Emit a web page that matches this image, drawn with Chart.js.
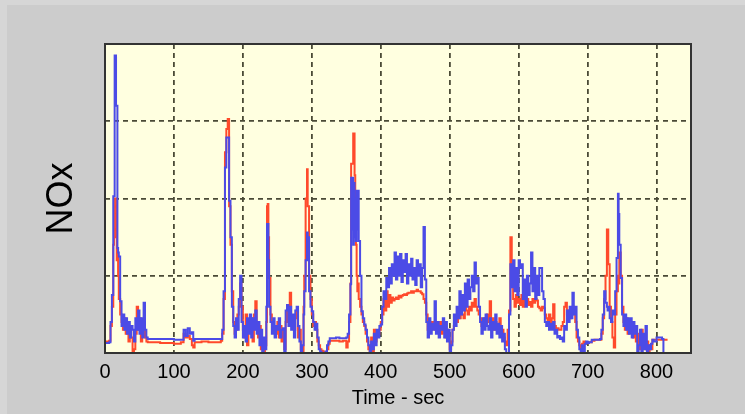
<!DOCTYPE html>
<html>
<head>
<meta charset="utf-8">
<script src="https://cdn.jsdelivr.net/npm/chart.js@4.4.1/dist/chart.umd.min.js"></script>
<style>
  html, body { margin: 0; padding: 0; background: #d4d4d4; }
  canvas { display: block; }
</style>
</head>
<body>
<canvas id="noxChart" width="745" height="414"></canvas>
<script>
// time stamps (sec), shared by both traces
const times = [
  0, 3, 6, 8, 10, 12, 13, 14, 15, 16, 17, 18, 19, 20, 22, 24, 26, 28, 30, 32, 34, 36, 38, 40, 42, 44, 46, 48, 50, 52, 54, 56, 58, 60,
  62, 70, 80, 90, 100, 110, 114, 117, 120, 123, 126, 128, 130, 140, 150, 160, 168,
  170, 172, 174, 176, 178, 180, 182, 184, 186, 188, 190, 192, 194, 196, 198, 200,
  202, 204, 206, 208, 210, 212, 214, 216, 218, 220, 222, 224, 226, 228, 230, 232,
  234, 235, 236, 237, 238, 240, 242, 244, 246, 248, 250, 252, 254, 256, 258, 260,
  262, 264, 266, 268, 270, 272, 274, 276, 278, 280, 282, 284, 286, 288,
  289, 291, 293, 294, 296, 298, 300, 302, 304, 306, 308, 310, 312, 314, 316, 318, 320, 322, 324,
  326, 330, 335, 340, 345, 350, 352,
  354, 356, 357, 358, 359, 360, 361, 362, 363, 364, 365, 366, 367, 368, 370, 372, 374, 376, 378, 380, 382, 384, 386, 388, 390, 392, 394, 396, 398, 400,
  402, 404, 406, 408, 410, 412, 414, 416, 418, 420, 422, 424, 426, 428, 430, 432, 434, 436, 438, 440, 442, 444, 446, 448, 450, 452, 454, 456, 458, 460, 462, 464,
  466, 468, 470, 472, 474, 476, 478, 480, 482, 484, 486, 488, 490, 492, 494, 496, 498, 500,
  502, 504, 506, 508, 510, 512, 514, 516, 518, 520, 522, 524, 526, 528, 530, 532, 534, 536, 538, 540, 542,
  544, 546, 548, 550, 552, 554, 556, 558, 560, 562, 564, 566, 568, 570, 572, 574, 576, 578, 580, 582, 584, 586,
  588, 590, 592, 594, 596, 598, 600, 602, 604, 606, 608, 610, 612, 614, 616, 618, 620, 622, 624, 626, 628, 630, 632, 634, 636, 638,
  640, 642, 644, 646, 648, 650, 652, 654, 656, 658, 660, 662, 664, 666, 668, 670, 672, 674, 676, 678, 680, 682, 684, 686, 688, 690, 692, 694, 696, 698, 700,
  702, 706, 710, 714, 718, 720, 722, 724, 726, 728, 729, 730, 732, 734, 736, 738, 740, 742, 744, 745, 746, 748, 750, 752, 754, 756, 758, 760,
  762, 764, 766, 768, 770, 772, 774, 776, 778, 780, 782, 784, 786, 788, 790, 792, 794, 796, 800, 804, 808, 810, 812, 816
];

// blue trace
const noxBlue = [
  0.13, 0.13, 0.14, 0.40, 0.75, 2.03, 2.03, 3.85, 3.85, 3.2, 3.2, 1.36, 1.30, 1.25, 0.67, 0.35, 0.5, 0.3, 0.45, 0.25, 0.4, 0.2, 0.35, 0.3, 0.15, 0.45, 0.3, 0.55, 0.25, 0.45, 0.2, 0.65, 0.3, 0.2,
  0.18, 0.18, 0.18, 0.18, 0.17, 0.17, 0.30, 0.22, 0.32, 0.25, 0.27, 0.16, 0.18, 0.18, 0.18, 0.18, 0.18,
  0.3, 0.8, 2.4, 2.79, 2.79, 1.97, 1.5, 0.6, 0.35, 0.2, 0.45, 0.3, 0.7, 1.0, 0.4, 0.2,
  0.35, 0.15, 0.45, 0.25, 0.5, 0.2, 0.45, 0.3, 0.55, 0.25, 0.4, 0.1, 0.3, 0.0, 0.2, 0.05,
  0.6, 1.67, 1.67, 1.2, 0.6, 0.4, 0.25, 0.45, 0.2, 0.35, 0.3, 0.45, 0.2, 0.3, 0.32, 0.0,
  0.55, 0.62, 0.35, 0.6, 0.3, 0.5, 0.2, 0.55, 0.6, 0.35, 0.15, 0.0, 0.1, 0.5,
  0.8, 1.2, 1.56, 1.5, 0.8, 0.6, 0.54, 0.4, 0.3, 0.38, 0.2, 0.05, 0.02, 0.0, 0.0, 0.0, 0.02, 0.1, 0.15,
  0.19, 0.19, 0.2, 0.19, 0.19, 0.2, 0.25,
  0.5, 0.89, 2.27, 1.6, 2.27, 1.4, 2.2, 1.5, 2.0, 1.45, 2.1, 1.6, 2.1, 1.45, 1.0, 0.54, 0.45, 0.37, 0.3, 0.2, 0.1, 0.0, 0.15, 0.05, 0.25, 0.1, 0.3, 0.2, 0.35, 0.37,
  0.6, 0.8, 0.7, 0.97, 0.85, 1.1, 0.9, 1.15, 1.0, 1.3, 0.95, 1.25, 1.0, 1.28, 0.92, 1.2, 1.05, 1.28, 0.9, 1.15, 1.0, 1.22, 0.95, 1.1, 0.88, 1.2, 1.0, 1.15, 0.85, 1.1, 1.63, 0.95,
  0.4, 0.2, 0.45, 0.25, 0.38, 0.3, 0.67, 0.25, 0.4, 0.2, 0.35, 0.3, 0.45, 0.2, 0.4, 0.15, 0.3, 0.0,
  0.1, 0.3, 0.5, 0.35, 0.6, 0.45, 0.8, 0.5, 0.75, 0.55, 0.9, 0.6, 0.95, 0.7, 0.85, 1.0, 0.8, 1.17, 0.9, 0.97, 0.6,
  0.4, 0.25, 0.45, 0.3, 0.5, 0.35, 0.3, 0.45, 0.2, 0.4, 0.3, 0.5, 0.25, 0.38, 0.2, 0.35, 0.15, 0.25, 0.05, 0.0, 0.0, 0.5,
  1.15, 0.85, 1.2, 0.8, 1.1, 0.75, 1.2, 1.1, 1.15, 0.7, 0.95, 0.6, 1.0, 0.75, 0.9, 1.3, 0.8, 1.1, 0.7, 1.0, 0.75, 1.1, 1.1, 0.8, 0.7, 0.4,
  0.35, 0.4, 0.3, 0.38, 0.3, 0.4, 0.25, 0.3, 0.2, 0.22, 0.18, 0.2, 0.15, 0.35, 0.3, 0.55, 0.4, 0.6, 0.45, 0.78, 0.5, 0.6, 0.3, 0.2, 0.05, 0.0, 0.1, 0.0, 0.12, 0.15, 0.13,
  0.14, 0.17, 0.17, 0.17, 0.18, 0.3, 0.5, 0.8, 0.65, 0.6, 0.55, 0.6, 0.45, 0.4, 0.55, 0.5, 0.8, 1.23, 2.06, 1.8, 1.4, 0.97, 0.5, 0.35, 0.5, 0.3, 0.45, 0.25,
  0.45, 0.2, 0.4, 0.25, 0.35, 0.0, 0.1, 0.3, 0.0, 0.25, 0.05, 0.35, 0.0, 0.1, 0.05, 0.12, 0.17, 0.15, 0.2, 0.2, 0.18, 0.0, 0.0, null
];

// red trace
const noxRed = [
  0.15, 0.15, 0.16, 0.35, 0.6, 1.4, 2.0, 2.0, 2.0, 1.5, 1.2, 1.3, 1.0, 0.7, 0.5, 0.4, 0.3, 0.45, 0.25, 0.35, 0.15, 0.3, 0.2, 0.0, 0.05, 0.25, 0.6, 0.3, 0.45, 0.15, 0.4, 0.3, 0.2, 0.15,
  0.14, 0.14, 0.13, 0.13, 0.12, 0.14, 0.25, 0.20, 0.22, 0.18, 0.10, 0.07, 0.14, 0.15, 0.14, 0.14, 0.16,
  0.25, 0.7, 2.6, 2.9, 3.03, 1.9, 1.4, 0.8, 0.4, 0.25, 0.3, 0.5, 0.6, 0.9, 0.6, 0.3,
  0.2, 0.5, 0.1, 0.4, 0.3, 0.45, 0.15, 0.5, 0.67, 0.3, 0.2, 0.35, 0.05, 0.15, 0.0, 0.1,
  0.4, 1.9, 1.93, 1.5, 0.97, 0.5, 0.41, 0.3, 0.35, 0.25, 0.4, 0.2, 0.35, 0.15, 0.3, 0.05,
  0.4, 0.6, 0.45, 0.78, 0.4, 0.35, 0.3, 0.45, 0.55, 0.2, 0.3, 0.05, 0.0, 0.6,
  1.0, 2.0, 2.38, 1.9, 1.0, 0.7, 0.5, 0.35, 0.4, 0.3, 0.15, 0.1, 0.05, 0.03, 0.02, 0.0, 0.0, 0.05, 0.12,
  0.16, 0.16, 0.16, 0.15, 0.16, 0.07, 0.15,
  0.4, 0.9, 2.45, 2.45, 2.45, 2.84, 2.84, 2.3, 1.8, 1.4, 1.0, 0.8, 0.9, 0.7, 0.6, 0.5, 0.4, 0.35, 0.25, 0.15, 0.05, 0.02, 0.2, 0.0, 0.3, 0.15, 0.28, 0.25, 0.3, 0.4,
  0.5, 0.7, 0.55, 0.8, 0.6, 0.75, 0.65, 0.72, 0.68, 0.7, 0.72, 0.7, 0.74, 0.72, 0.74, 0.75, 0.76, 0.75, 0.77, 0.78, 0.78, 0.8, 0.78, 0.8, 0.8, 0.82, 0.8, 0.8, 0.78, 0.76, 0.7, 0.65,
  0.5, 0.3, 0.35, 0.3, 0.4, 0.35, 0.3, 0.4, 0.35, 0.3, 0.4, 0.25, 0.3, 0.35, 0.2, 0.3, 0.2, 0.05,
  0.15, 0.3, 0.35, 0.45, 0.4, 0.5, 0.45, 0.55, 0.5, 0.45, 0.6, 0.55, 0.5, 0.6, 0.55, 0.65, 0.6, 0.7, 0.6, 0.55, 0.5,
  0.45, 0.35, 0.4, 0.45, 0.35, 0.5, 0.4, 0.67, 0.35, 0.45, 0.3, 0.4, 0.35, 0.3, 0.45, 0.25, 0.3, 0.2, 0.15, 0.1, 0.3, 0.55,
  1.5, 1.0, 0.7, 0.6, 0.75, 0.65, 0.7, 0.62, 0.75, 0.6, 0.68, 0.65, 0.7, 0.62, 0.66, 0.6, 0.7, 0.65, 0.7, 0.68, 0.6, 0.58, 0.55, 0.6, 0.58, 0.5,
  0.45, 0.4, 0.5, 0.35, 0.45, 0.63, 0.35, 0.3, 0.32, 0.3, 0.3, 0.35, 0.4, 0.6, 0.65, 0.5, 0.55, 0.45, 0.5, 0.6, 0.55, 0.4, 0.2, 0.15, 0.1, 0.05, 0.12, 0.15, 0.12, 0.14, 0.14,
  0.14, 0.16, 0.17, 0.17, 0.17, 0.25, 0.45, 0.7, 1.0, 1.6, 1.6, 1.15, 0.6, 0.4, 0.2, 0.07, 0.5, 0.8, 1.0, 0.9, 1.3, 1.0, 0.6, 0.4, 0.3, 0.45, 0.25, 0.35,
  0.3, 0.35, 0.2, 0.3, 0.15, 0.25, 0.05, 0.2, 0.3, 0.1, 0.2, 0.05, 0.15, 0.0, 0.1, 0.05, 0.17, 0.17, 0.17, 0.17, 0.17, 0.17, 0.17, 0.17
];

const xTickStep = 100;
const xMax = 850;
const yMax = 4;

const FONT = '"Liberation Sans", Arial, sans-serif';

// grey panel, yellow plot area and the dark frame round it
const framePlugin = {
    id: 'frame',
    beforeDraw(chart) {
        const { ctx, chartArea: a } = chart;
        ctx.save();
        ctx.fillStyle = '#d6d6d6';
        ctx.fillRect(0, 0, chart.width, chart.height);
        ctx.fillStyle = '#cccccc';
        ctx.fillRect(7, 5, chart.width - 7, chart.height - 5);
        ctx.fillStyle = '#ffffe0';
        ctx.fillRect(a.left, a.top, a.right - a.left, a.bottom - a.top);
        ctx.restore();
    },
    afterDraw(chart) {
        const { ctx, chartArea: a } = chart;
        ctx.save();
        ctx.strokeStyle = '#333333';
        ctx.lineWidth = 2;
        ctx.strokeRect(a.left, a.top, a.right - a.left, a.bottom - a.top);
        ctx.restore();
    }
};

const toPoints = vals => times.map((t, i) => ({ x: t, y: vals[i] }));

const gridColor = max => c => (c.tick && c.tick.value > 0 && c.tick.value < max) ? '#4a4a36' : 'rgba(0,0,0,0)';

new Chart(document.getElementById('noxChart'), {
    type: 'line',
    data: {
        datasets: [
            {
                label: 'NOx (blue)',
                data: toPoints(noxBlue),
                borderColor: '#4b4be6',
                borderWidth: 2,
                pointRadius: 0,
                stepped: true,
                spanGaps: false
            },
            {
                label: 'NOx (red)',
                data: toPoints(noxRed),
                borderColor: '#ff4a2b',
                borderWidth: 2,
                pointRadius: 0,
                stepped: true
            }
        ]
    },
    options: {
        responsive: false,
        animation: false,
        events: [],
        layout: { padding: { left: 0, top: 44, right: 54, bottom: 0 } },
        plugins: {
            legend: { display: false },
            tooltip: { enabled: false }
        },
        scales: {
            x: {
                type: 'linear',
                min: 0,
                max: xMax,
                afterBuildTicks: s => { s.ticks = s.ticks.filter(t => t.value % xTickStep === 0); },
                afterFit: s => { s.height = 61; },
                ticks: {
                    stepSize: xTickStep,
                    includeBounds: false,
                    maxRotation: 0,
                    autoSkip: false,
                    padding: 7,
                    color: '#000',
                    font: { family: FONT, size: 20 }
                },
                grid: {
                    drawTicks: false,
                    lineWidth: 1.8,
                    color: gridColor(xMax)
                },
                border: { display: false, dash: [5, 4] },
                title: {
                    display: true,
                    text: 'Time - sec',
                    color: '#000',
                    font: { family: FONT, size: 20 },
                    padding: { top: 0, bottom: 4 }
                }
            },
            y: {
                min: 0,
                max: yMax,
                afterFit: s => { s.width = 105; },
                ticks: { stepSize: 1, display: false },
                grid: {
                    drawTicks: false,
                    lineWidth: 1.8,
                    color: gridColor(yMax)
                },
                border: { display: false, dash: [5, 4] },
                title: {
                    display: true,
                    text: 'NOx',
                    color: '#000',
                    font: { family: FONT, size: 36 },
                    padding: { top: 40, bottom: 0 }
                }
            }
        }
    },
    plugins: [framePlugin]
});
</script>
</body>
</html>
